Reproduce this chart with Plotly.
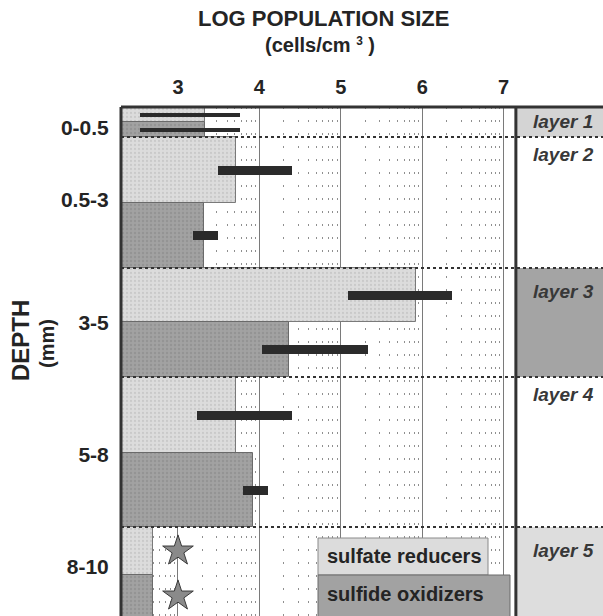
import math
import plotly.graph_objects as go

# ---------------- data ----------------
depth_labels = ["0-0.5", "0.5-3", "3-5", "5-8", "8-10"]
sulfate_reducers = [3.33, 3.71, 5.92, 3.71, 2.69]
sulfide_oxidizers = [3.33, 3.32, 4.36, 3.92, 2.69]
sr_low = [2.53, 3.49, 5.09, 3.23, None]
sr_high = [3.76, 4.40, 6.37, 4.40, None]
so_low = [2.53, 3.18, 4.03, 3.80, None]
so_high = [3.76, 3.49, 5.33, 4.10, None]
sr_star = [None, None, None, None, 3.0]
so_star = [None, None, None, None, 3.0]
layer_names = ["layer 1", "layer 2", "layer 3", "layer 4", "layer 5"]
x_ticks = [3, 4, 5, 6, 7]
legend_names = ["sulfate reducers", "sulfide oxidizers"]

# ---------------- layout geometry (pixel-like y units, top = 0) ----------------
row_top = [0, 30, 161, 270, 420]
row_split = [15, 96, 215, 346, 468]
row_bottom = [30, 161, 270, 420, 510]
label_pos = [21, 93, 216, 348, 460]
range_thick = [4, 9, 9, 9, 9]
layer_fill = ["#d4d4d4", "white", "#a4a4a4", "white", "#dddddd"]

W, H = 603, 616
ML, MT = 121, 107
X_MIN, X_PLOT_MAX, X_MAX = 2.3, 7.15, 8.22
Y_BOTTOM = H - MT
PXU = (W - ML) / (X_MAX - X_MIN)

FONT = "Liberation Sans, Arial, Helvetica, sans-serif"
TXT = "#242424"
LIGHT = "#dcdcdc"
DARK = "#a2a2a2"
BLACK = "#2b2b2b"


def dx(px):
    return X_MIN + (px - ML) / PXU


def dy(py):
    return py - MT


def px_paper_x(px):
    return (px - ML) / (W - ML)


def px_paper_y(py):
    return 1 - (py - MT) / (H - MT)


light_y = [(t + s) / 2 for t, s in zip(row_top, row_split)]
light_w = [s - t for t, s in zip(row_top, row_split)]
dark_y = [(s + b) / 2 for s, b in zip(row_split, row_bottom)]
dark_w = [b - s for s, b in zip(row_split, row_bottom)]

fig = go.Figure()

fig.add_trace(go.Bar(
    y=light_y, x=sulfate_reducers, width=light_w, orientation="h",
    marker=dict(color=LIGHT, line=dict(color="#7a7a7a", width=1),
                pattern=dict(shape=".", fgcolor="#b5b5b5", size=4, solidity=0.25)),
    name=legend_names[0], showlegend=False, hoverinfo="skip"))
fig.add_trace(go.Bar(
    y=dark_y, x=sulfide_oxidizers, width=dark_w, orientation="h",
    marker=dict(color=DARK, line=dict(color="#6a6a6a", width=1),
                pattern=dict(shape=".", fgcolor="#858585", size=4, solidity=0.3)),
    name=legend_names[1], showlegend=False, hoverinfo="skip"))


def range_trace(lo, hi, ys):
    yy, base, length, wid = [], [], [], []
    for i, (l, h) in enumerate(zip(lo, hi)):
        if l is None:
            continue
        yy.append(ys[i]); base.append(l); length.append(h - l); wid.append(range_thick[i])
    return go.Bar(y=yy, x=length, base=base, width=wid, orientation="h",
                  marker=dict(color=BLACK, line=dict(width=0)),
                  showlegend=False, hoverinfo="skip")


fig.add_trace(range_trace(sr_low, sr_high, light_y))
fig.add_trace(range_trace(so_low, so_high, dark_y))

star_x, star_y = [], []
for i, v in enumerate(sr_star):
    if v is not None:
        star_x.append(v); star_y.append(light_y[i])
for i, v in enumerate(so_star):
    if v is not None:
        star_x.append(v); star_y.append(dark_y[i])
fig.add_trace(go.Scatter(x=star_x, y=star_y, mode="markers",
                         marker=dict(symbol="star", size=23, color="#8a8a8a",
                                     line=dict(color="#3a3a3a", width=1)),
                         showlegend=False, hoverinfo="skip"))

minor_vals = []
for d in range(2, 8):
    for m in range(2, 10):
        v = d + math.log10(m)
        if X_MIN < v < X_PLOT_MAX:
            minor_vals.append(v)

shapes = []
# right panel fills
for i in range(5):
    if layer_fill[i] != "white":
        bottom = row_bottom[i] if i < 4 else Y_BOTTOM + 20
        shapes.append(dict(type="rect", xref="x", yref="y", x0=X_PLOT_MAX, x1=X_MAX,
                           y0=row_top[i], y1=bottom, fillcolor=layer_fill[i],
                           line=dict(width=0), layer="below"))
# legend boxes
shapes.append(dict(type="rect", xref="x", yref="y", x0=dx(318), x1=dx(488), y0=dy(538), y1=dy(575),
                   fillcolor=LIGHT, line=dict(color="#8a8a8a", width=1), layer="above"))
shapes.append(dict(type="rect", xref="x", yref="y", x0=dx(318), x1=dx(510), y0=dy(575), y1=dy(630),
                   fillcolor=DARK, line=dict(color="#6a6a6a", width=1), layer="above"))
# layer boundary dotted lines
for i in range(1, 5):
    shapes.append(dict(type="line", xref="paper", yref="y", x0=0, x1=1,
                       y0=row_top[i], y1=row_top[i], line=dict(color="#333", width=2, dash="dot"),
                       layer="above"))
# borders
shapes.append(dict(type="line", xref="paper", yref="paper", x0=0, x1=1, y0=1, y1=1,
                   line=dict(color="#333", width=3), layer="above"))
shapes.append(dict(type="line", xref="paper", yref="paper", x0=0, x1=0, y0=0, y1=1,
                   line=dict(color="#333", width=3), layer="above"))
shapes.append(dict(type="line", xref="x", yref="paper", x0=X_PLOT_MAX, x1=X_PLOT_MAX, y0=0, y1=1,
                   line=dict(color="#333", width=3), layer="above"))


def ann(text, x, y, size, xref="paper", yref="paper", angle=0, xanchor="center", color=TXT):
    return dict(text=text, xref=xref, yref=yref, x=x, y=y, textangle=angle,
                xanchor=xanchor, yanchor="middle", showarrow=False,
                font=dict(family=FONT, size=size, color=color))


annotations = [
    ann("<b>LOG POPULATION SIZE</b>", px_paper_x(323), px_paper_y(19), 22),
    ann("<b>(cells/cm <span style='font-size:17px'><sup>3</sup></span> )</b>",
        px_paper_x(320), px_paper_y(45), 20),
    ann("<b>DEPTH</b>", px_paper_x(20), px_paper_y(341), 24, angle=-90),
    ann("<b>(mm)</b>", px_paper_x(47), px_paper_y(344), 20, angle=-90),
    ann("<b>" + legend_names[0] + "</b>", dx(325), dy(556), 20, xref="x", yref="y", xanchor="left"),
    ann("<b>" + legend_names[1] + "</b>", dx(325), dy(594), 20, xref="x", yref="y", xanchor="left"),
]
layer_label_y = [dy(121), dy(154), dy(291), dy(394), dy(550)]
for i, name in enumerate(layer_names):
    annotations.append(ann("<b><i>" + name + "</i></b>", dx(563), layer_label_y[i], 19,
                           xref="x", yref="y", color="#383838"))

fig.update_layout(
    width=W, height=H,
    margin=dict(l=ML, r=0, t=MT, b=0, pad=0),
    paper_bgcolor="white", plot_bgcolor="white",
    barmode="overlay", bargap=0,
    showlegend=False,
    shapes=shapes, annotations=annotations,
    xaxis=dict(range=[X_MIN, X_MAX], side="top", tickmode="array", tickvals=x_ticks,
               ticktext=[f"<b>{t}</b>" for t in x_ticks],
               tickfont=dict(family=FONT, size=20, color=TXT),
               showgrid=True, gridcolor="#7a7a7a", gridwidth=1, zeroline=False,
               ticks="outside", ticklen=4, tickcolor="rgba(0,0,0,0)",
               showline=False,
               minor=dict(tickmode="array", tickvals=minor_vals, showgrid=True,
                          gridcolor="#8f8f8f", gridwidth=1, griddash="2px,11px", ticks="")),
    yaxis=dict(range=[Y_BOTTOM, 0], tickmode="array", tickvals=label_pos,
               ticktext=[f"<b>{t}</b>" for t in depth_labels],
               tickfont=dict(family=FONT, size=21, color=TXT),
               showgrid=False, zeroline=False, showline=False,
               ticks="outside", ticklen=7, tickcolor="rgba(0,0,0,0)"),
)

fig.write_html("out.html")
